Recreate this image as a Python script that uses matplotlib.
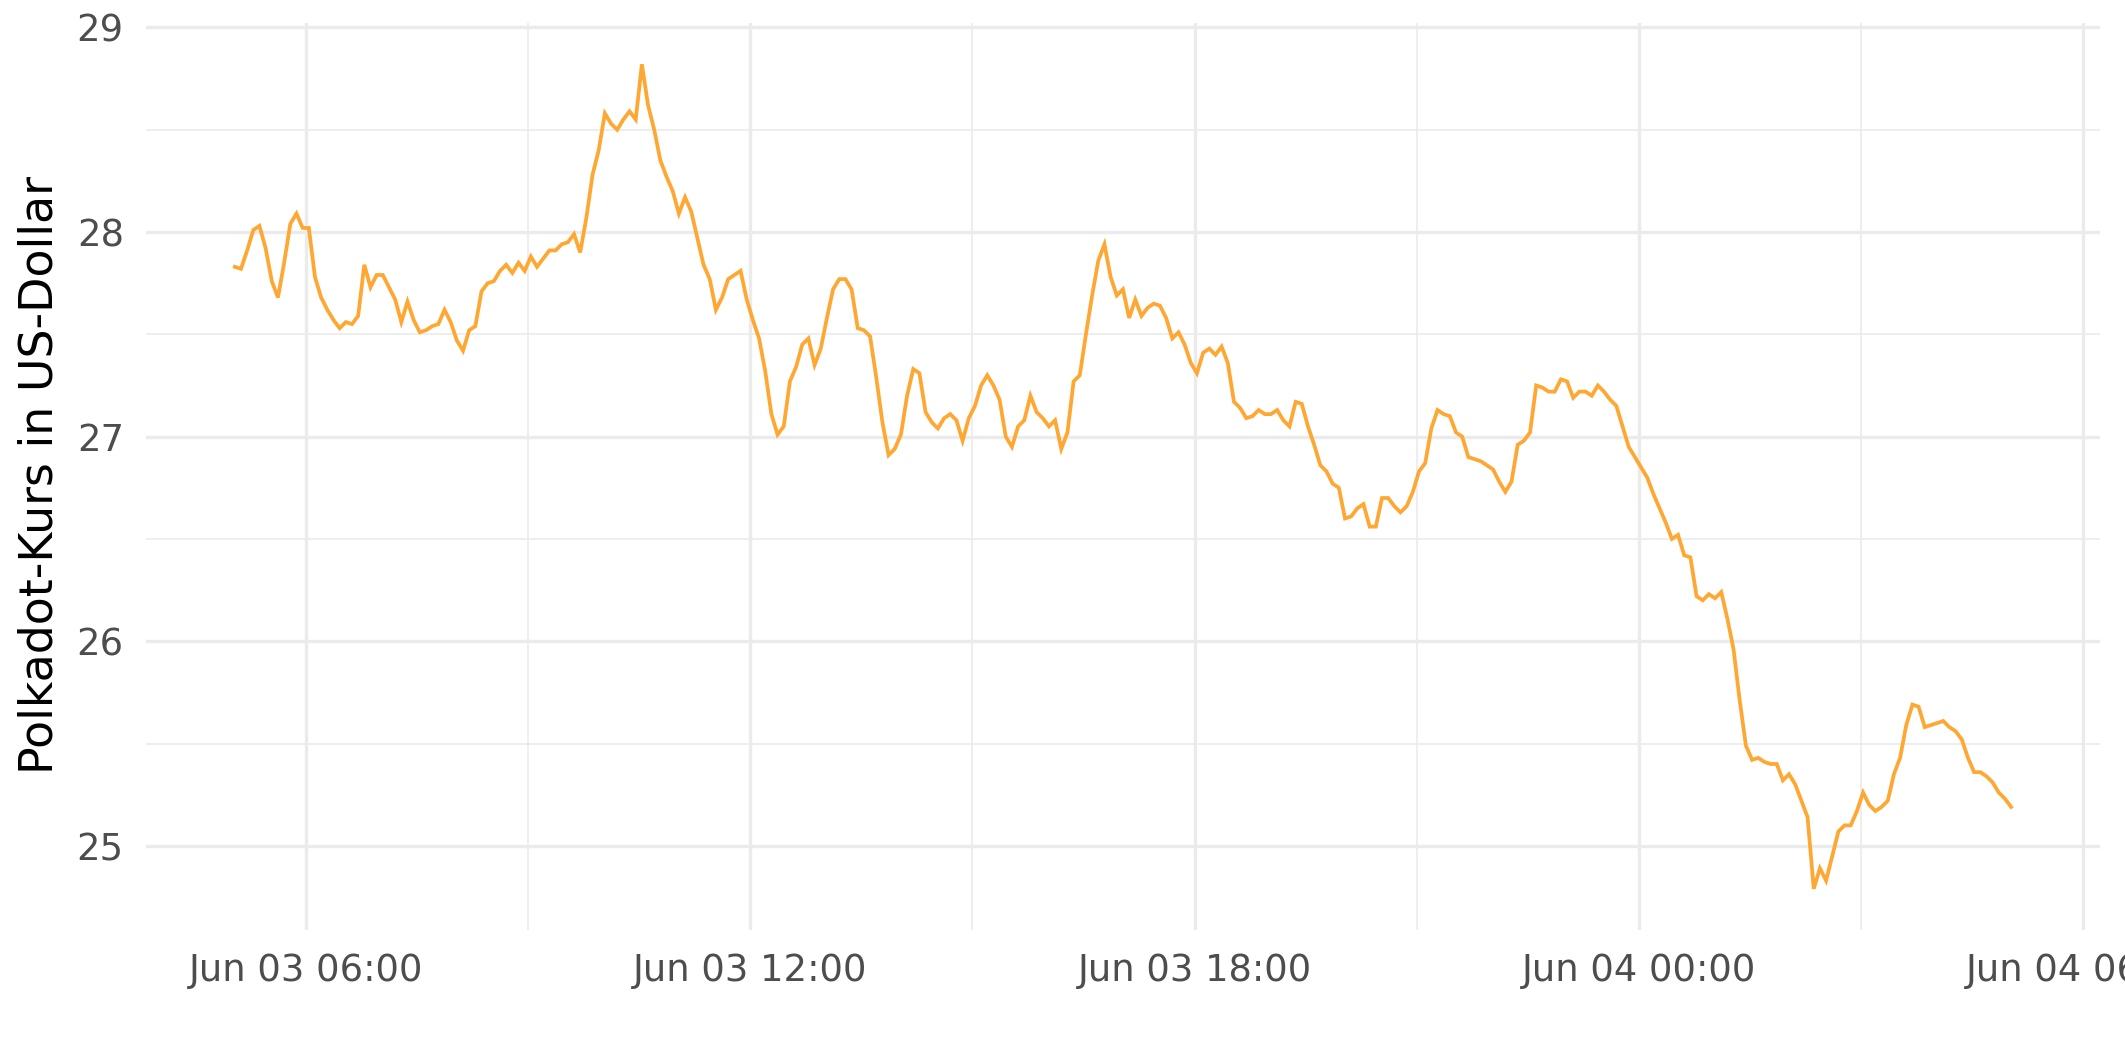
import matplotlib
matplotlib.use("Agg")
import matplotlib.pyplot as plt
import matplotlib.dates as mdates
import matplotlib.ticker as mticker
import pandas as pd

# Polkadot price, 5-minute steps
start = "2021-06-03 05:02"
step = "5min"
price = [
    27.83, 27.82, 27.91, 28.01, 28.03, 27.92, 27.76, 27.68, 27.85, 28.04,
    28.09, 28.02, 28.02, 27.78, 27.68, 27.62, 27.57, 27.53, 27.56, 27.55,
    27.59, 27.84, 27.73, 27.79, 27.79, 27.73, 27.67, 27.56, 27.66, 27.57,
    27.51, 27.52, 27.54, 27.55, 27.62, 27.56, 27.47, 27.42, 27.52, 27.54,
    27.71, 27.75, 27.76, 27.81, 27.84, 27.80, 27.85, 27.81, 27.88, 27.83,
    27.87, 27.91, 27.91, 27.94, 27.95, 27.99, 27.90, 28.07, 28.28, 28.40,
    28.58, 28.53, 28.50, 28.55, 28.59, 28.55, 28.82, 28.62, 28.50, 28.35,
    28.27, 28.20, 28.09, 28.17, 28.10, 27.97, 27.84, 27.77, 27.62, 27.68,
    27.77, 27.79, 27.81, 27.67, 27.57, 27.48, 27.32, 27.11, 27.01, 27.05,
    27.27, 27.34, 27.45, 27.48, 27.35, 27.43, 27.58, 27.72, 27.77, 27.77,
    27.72, 27.53, 27.52, 27.49, 27.29, 27.07, 26.91, 26.94, 27.01, 27.20,
    27.33, 27.31, 27.12, 27.07, 27.04, 27.09, 27.11, 27.08, 26.98, 27.09,
    27.15, 27.25, 27.30, 27.25, 27.18, 27.00, 26.95, 27.05, 27.08, 27.20,
    27.12, 27.09, 27.05, 27.08, 26.94, 27.02, 27.27, 27.30, 27.50, 27.69,
    27.86, 27.94, 27.78, 27.69, 27.72, 27.58, 27.67, 27.59, 27.63, 27.65,
    27.64, 27.58, 27.48, 27.51, 27.45, 27.36, 27.31, 27.41, 27.43, 27.40,
    27.44, 27.36, 27.17, 27.14, 27.09, 27.10, 27.13, 27.11, 27.11, 27.13,
    27.08, 27.05, 27.17, 27.16, 27.05, 26.96, 26.86, 26.83, 26.77, 26.75,
    26.60, 26.61, 26.65, 26.67, 26.56, 26.56, 26.70, 26.70, 26.66, 26.63,
    26.66, 26.73, 26.83, 26.87, 27.04, 27.13, 27.11, 27.10, 27.02, 27.00,
    26.90, 26.89, 26.88, 26.86, 26.84, 26.78, 26.73, 26.78, 26.96, 26.98,
    27.02, 27.25, 27.24, 27.22, 27.22, 27.28, 27.27, 27.19, 27.22, 27.22,
    27.20, 27.25, 27.22, 27.18, 27.15, 27.05, 26.95, 26.90, 26.85, 26.80,
    26.72, 26.65, 26.58, 26.50, 26.52, 26.42, 26.41, 26.22, 26.20, 26.23,
    26.21, 26.24, 26.11, 25.96, 25.71, 25.49, 25.42, 25.43, 25.41, 25.40,
    25.40, 25.32, 25.35, 25.30, 25.22, 25.14, 24.79, 24.89, 24.83, 24.95,
    25.07, 25.10, 25.10, 25.17, 25.26, 25.20, 25.17, 25.19, 25.22, 25.35,
    25.43, 25.59, 25.69, 25.68, 25.58, 25.59, 25.60, 25.61, 25.58, 25.56,
    25.52, 25.43, 25.36, 25.36, 25.34, 25.31, 25.26, 25.23, 25.19,
]
y_label = "Polkadot-Kurs in US-Dollar"

times = pd.date_range(start, periods=len(price), freq=step)

fig = plt.figure(figsize=(10.625, 5.31), dpi=200)
ax = fig.add_axes([0.0687, 0.1243, 0.9195, 0.854])
ax.plot(times, price, color="#ffa733", lw=1.35, solid_joinstyle="miter")

# ggplot style 5% expansion
pad = (times[-1] - times[0]) * 0.05
ax.set_xlim(times[0] - pad, times[-1] + pad)
lo, hi = min(price), max(price)
ax.set_ylim(lo - 0.05 * (hi - lo), hi + 0.05 * (hi - lo))

ax.xaxis.set_major_locator(mdates.HourLocator(byhour=[0, 6, 12, 18]))
ax.xaxis.set_minor_locator(mdates.HourLocator(byhour=[3, 9, 15, 21]))
ax.xaxis.set_major_formatter(mdates.DateFormatter("%b %d %H:%M"))
ax.yaxis.set_major_locator(mticker.MultipleLocator(1))
ax.yaxis.set_minor_locator(mticker.MultipleLocator(0.5))

ax.grid(which="major", color="#ebebeb", lw=1.2)
ax.grid(which="minor", color="#ebebeb", lw=0.6)
ax.set_axisbelow(True)
for s in ax.spines.values():
    s.set_visible(False)
ax.tick_params(which="both", length=0, labelsize=13.3, labelcolor="#4d4d4d")
ax.tick_params(axis="y", pad=8)
ax.tick_params(axis="x", pad=8)

fig.text(40 / 2125, 0.5527, y_label, rotation=90, ha="center", va="center",
         fontsize=16.5, color="black")

fig.savefig("out.png", dpi=200)
